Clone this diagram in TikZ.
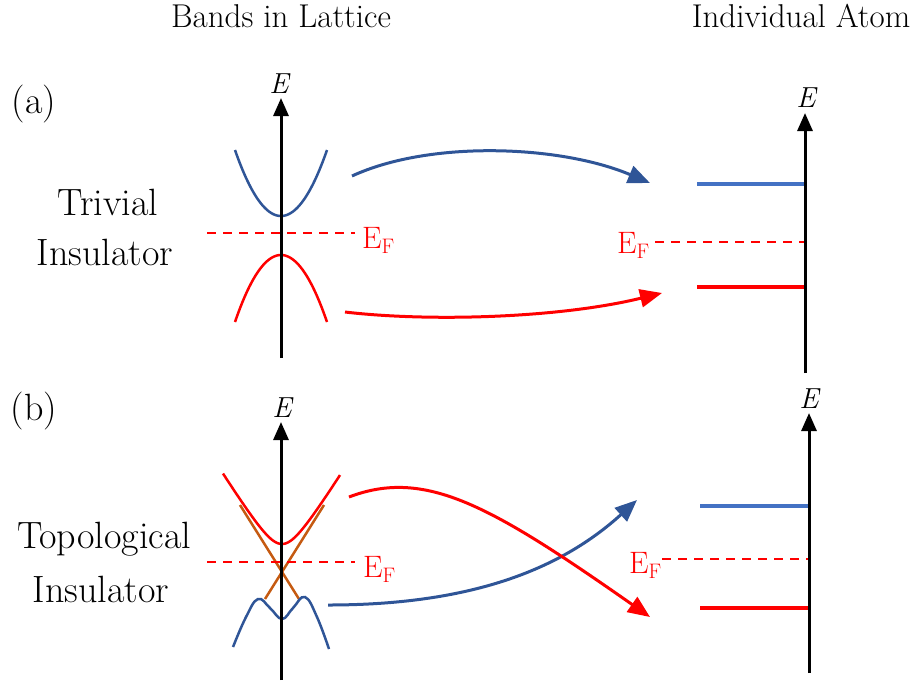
\documentclass[tikz,border=0pt]{standalone}
\usetikzlibrary{arrows.meta}
\definecolor{bandblue}{HTML}{2F5597}
\definecolor{levelblue}{HTML}{4472C4}
\definecolor{bandred}{HTML}{FF0000}
\definecolor{crossorange}{HTML}{C55A11}
\tikzset{
    eaxis/.style={line width=3pt, -{Triangle[length=18pt,width=15pt]}},
    band/.style={line width=2.5pt},
    level/.style={line width=4pt},
    fermi/.style={bandred, line width=1.8pt, dash pattern=on 9pt off 7pt},
    hop/.style={line width=3pt, -{Triangle[length=22pt,width=18pt]}},
    title/.style={font=\fontsize{33}{40}\selectfont, anchor=base},
    label/.style={font=\fontsize{38}{45}\selectfont, anchor=base},
    elabel/.style={font=\fontsize{29}{34}\selectfont\itshape, anchor=base},
    flabel/.style={text=bandred, font=\fontsize{31}{37}\selectfont, anchor=base west, inner sep=0pt}
}
\newcommand{\fermiE}{E\raisebox{-5pt}{\fontsize{21}{21}\selectfont F}}

\begin{document}
\begin{tikzpicture}[x=1pt, y=-1pt]
    \useasboundingbox (0,0) rectangle (920,681);

    % Titles
    \node[title] (lattice) at (281,27) {Bands in Lattice};
    \node[title] (atom) at (801,27) {Individual Atom};

    % Panel labels
    \node[label] (pa) at (34,113) {(a)};
    \node[label] (triv1) at (108,215) {Trivial};
    \node[label] (triv2) at (105,265) {Insulator};
    \node[label] (pb) at (34,420) {(b)};
    \node[label] (topo1) at (104,548) {Topological};
    \node[label] (topo2) at (101,602) {Insulator};

    % (a) bands in lattice
    \draw[band, bandblue, domain=235:327, samples=60] plot (\x, {216 - 66*((\x-281)/46)^2});
    \draw[band, bandred, domain=235:327, samples=60] plot (\x, {255 + 67*((\x-281)/46)^2});
    \coordinate (fa0) at (207,233);
    \coordinate (fa1) at (355,233);
    \draw[fermi] (fa0) -- (fa1);
    \node[flabel] (efa) at (362,248) {\fermiE};
    \coordinate (axa0) at (281,358);
    \coordinate (axa1) at (281,98);
    \draw[eaxis] (axa0) -- (axa1);
    \node[elabel] (ea) at (279,93) {E};

    % (a) individual atom
    \coordinate (ata0) at (805,373);
    \coordinate (ata1) at (805,113);
    \draw[level, levelblue] (697,184) coordinate (ua) -- (805,184);
    \draw[level, bandred] (697,287) coordinate (la) -- (805,287);
    \coordinate (ga0) at (655,242);
    \coordinate (ga1) at (805,242);
    \draw[fermi, line width=1.5pt] (ga0) -- (ga1);
    \node[flabel] (efa2) at (617,253) {\fermiE};
    \draw[eaxis] (ata0) -- (ata1);
    \node[elabel] (ea2) at (806,107) {E};

    % (a) arrows
    \coordinate (sa1) at (352,176);
    \coordinate (ta1) at (650,183);
    \draw[hop, bandblue] (sa1) .. controls (430,140) and (560,145) .. (ta1);
    \coordinate (sa2) at (345,312);
    \coordinate (ta2) at (662,293);
    \draw[hop, bandred] (sa2) .. controls (430,322) and (560,318) .. (ta2);

    % (b) bands in lattice
    \draw[band, crossorange] (240,505) -- (299,599);
    \draw[band, crossorange] (324,505) -- (265,599);
    \draw[band, bandred, domain=223:340, samples=80] plot (\x, {572 - sqrt(784 + (1.6*(\x-282))^2)});
    \draw[band, bandblue] plot[smooth, tension=0.7] coordinates {(233,647) (246,617) (258,599) (270,608) (282,619) (293,608) (305,597) (317,617) (329,649)};
    \coordinate (fb0) at (207,562);
    \coordinate (fb1) at (355,562);
    \draw[fermi] (fb0) -- (fb1);
    \node[flabel] (efb) at (363,577) {\fermiE};
    \coordinate (axb0) at (281,680);
    \coordinate (axb1) at (281,422);
    \draw[eaxis] (axb0) -- (axb1);
    \node[elabel] (eb) at (282,417) {E};

    % (b) individual atom
    \coordinate (atb0) at (809,673);
    \coordinate (atb1) at (809,413);
    \draw[level, levelblue] (700,506) coordinate (ub) -- (809,506);
    \draw[level, bandred] (700,608) coordinate (lb) -- (809,608);
    \coordinate (gb0) at (662,559);
    \coordinate (gb1) at (809,559);
    \draw[fermi, line width=1.5pt] (gb0) -- (gb1);
    \node[flabel] (efb2) at (629,573) {\fermiE};
    \draw[eaxis] (atb0) -- (atb1);
    \node[elabel] (eb2) at (809,408) {E};

    % (b) arrows, bands swap
    \coordinate (sb2) at (328,605);
    \coordinate (tb2) at (637,500);
    \draw[hop, bandblue] (sb2) .. controls (470,605) and (560,570) .. (tb2);
    \coordinate (sb1) at (349,497);
    \coordinate (tb1) at (650,617);
    \draw[hop, bandred] (sb1) .. controls (425,468) and (490,505) .. (tb1);

\end{tikzpicture}
\end{document}
